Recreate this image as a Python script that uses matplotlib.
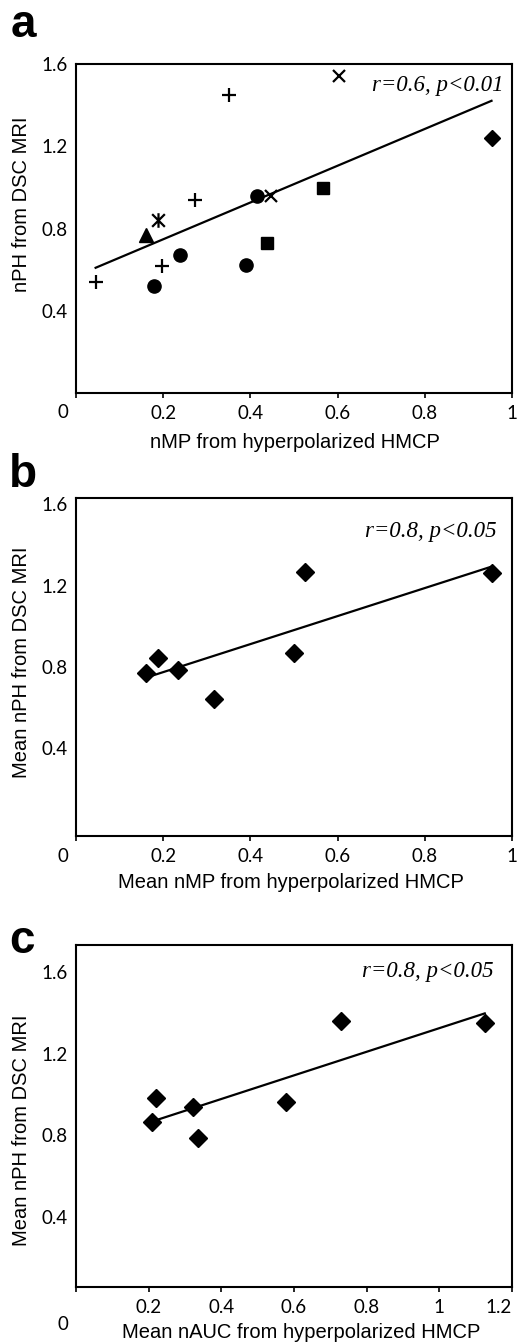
"""
Three scatter panels: DSC MRI peak height against hyperpolarized HMCP metrics,
each with its linear trend line and the correlation note in the corner.
"""
import matplotlib

matplotlib.use("Agg")
import matplotlib.pyplot as plt
from matplotlib.path import Path

W, H = 518, 1343

# ---- panel a: individual measurements, one marker per subject ----
a_plus_x = [0.045, 0.197, 0.272, 0.350]
a_plus_y = [0.541, 0.619, 0.939, 1.447]
a_cross_x = [0.447, 0.604]
a_cross_y = [0.958, 1.540]
a_star_x = [0.187]
a_star_y = [0.841]
a_tri_x = [0.160]
a_tri_y = [0.768]
a_circle_x = [0.178, 0.239, 0.391, 0.415]
a_circle_y = [0.520, 0.669, 0.621, 0.958]
a_square_x = [0.438, 0.566]
a_square_y = [0.728, 0.997]
a_diamond_x = [0.953]
a_diamond_y = [1.238]
a_trend_x = [0.045, 0.953]
a_trend_y = [0.609, 1.421]

# ---- panel b: subject means ----
b_x = [0.161, 0.187, 0.235, 0.316, 0.500, 0.525, 0.953]
b_y = [0.772, 0.842, 0.784, 0.642, 0.870, 1.269, 1.260]
b_trend_x = [0.161, 0.953]
b_trend_y = [0.748, 1.293]

# ---- panel c: subject means, nAUC ----
c_x = [0.210, 0.220, 0.321, 0.337, 0.578, 0.728, 1.125]
c_y = [0.865, 0.985, 0.937, 0.787, 0.963, 1.359, 1.350]
c_trend_x = [0.210, 1.125]
c_trend_y = [0.868, 1.397]

y_ticks = [0.4, 0.8, 1.2, 1.6]
ab_x_ticks = [0, 0.2, 0.4, 0.6, 0.8, 1.0]
ab_x_labels = ["", "0.2", "0.4", "0.6", "0.8", "1"]
c_x_ticks = [0, 0.2, 0.4, 0.6, 0.8, 1.0, 1.2]
c_x_labels = ["", "0.2", "0.4", "0.6", "0.8", "1", "1.2"]

TICK_FONT = "Lato"
LABEL_FONT = "Liberation Sans"
TICK_SIZE = 13.5
LABEL_SIZE = 14.5

# Excel-style "*" marker: a cross with a vertical bar through it
STAR = Path(
    [(-1, -1), (1, 1), (-1, 1), (1, -1), (0, -1.15), (0, 1.15)],
    [Path.MOVETO, Path.LINETO, Path.MOVETO, Path.LINETO, Path.MOVETO, Path.LINETO],
)


def px_axes(fig, left, top, right, bottom):
    return fig.add_axes([left / W, 1 - bottom / H, (right - left) / W, (bottom - top) / H])


def ftext(fig, x, y, s, **kw):
    fig.text(x / W, 1 - y / H, s, **kw)


def style_axes(ax, xlim, ylim, xticks, xlabels):
    ax.set_xlim(*xlim)
    ax.set_ylim(*ylim)
    for sp in ax.spines.values():
        sp.set_linewidth(1.5)
        sp.set_color("black")
    ax.set_xticks(xticks)
    ax.set_xticklabels(xlabels)
    ax.set_yticks(y_ticks)
    ax.set_yticklabels([f"{v:.1f}" for v in y_ticks])
    ax.tick_params(axis="x", direction="out", length=3.5, width=1.2, pad=5,
                   labelsize=TICK_SIZE)
    ax.tick_params(axis="y", length=0, pad=6, labelsize=TICK_SIZE)
    for lab in ax.get_xticklabels() + ax.get_yticklabels():
        lab.set_fontfamily(TICK_FONT)
    # Excel pulls the last x label inside the figure edge
    ax.get_xticklabels()[-1].set_horizontalalignment("right" if len(xticks) > 6 else "center")


fig = plt.figure(figsize=(W / 100, H / 100), dpi=100)

# panel a
ax = px_axes(fig, 76, 64, 512, 393)
ms_kw = dict(linestyle="none", color="black")
ax.plot(a_trend_x, a_trend_y, color="black", linewidth=1.6)
ax.plot(a_plus_x, a_plus_y, marker="+", markersize=10, markeredgewidth=1.6, **ms_kw)
ax.plot(a_cross_x, a_cross_y, marker="x", markersize=9, markeredgewidth=1.6, **ms_kw)
ax.plot(a_star_x, a_star_y, marker=STAR, markersize=10.5, markeredgewidth=1.6,
        markerfacecolor="none", **ms_kw)
ax.plot(a_tri_x, a_tri_y, marker="^", markersize=9.5, **ms_kw)
ax.plot(a_circle_x, a_circle_y, marker="o", markersize=9.5, **ms_kw)
ax.plot(a_square_x, a_square_y, marker="s", markersize=9, **ms_kw)
ax.plot(a_diamond_x, a_diamond_y, marker="D", markersize=8.5, **ms_kw)
style_axes(ax, (0, 1), (0, 1.6), ab_x_ticks, ab_x_labels)

# panel b
ax = px_axes(fig, 76, 498, 512, 836)
ax.plot(b_trend_x, b_trend_y, color="black", linewidth=1.6)
ax.plot(b_x, b_y, marker="D", markersize=9, **ms_kw)
style_axes(ax, (0, 1), (-0.03, 1.63), ab_x_ticks, ab_x_labels)

# panel c
ax = px_axes(fig, 76, 945, 512, 1287)
ax.plot(c_trend_x, c_trend_y, color="black", linewidth=1.6)
ax.plot(c_x, c_y, marker="D", markersize=9, **ms_kw)
style_axes(ax, (0.003, 1.2), (0.057, 1.732), c_x_ticks, c_x_labels)

# panel letters
for x, y, s in [(11, 37, "a"), (9, 487, "b"), (9, 953, "c")]:
    ftext(fig, x, y, s, fontsize=33, fontweight="bold", family=LABEL_FONT,
          ha="left", va="baseline")

# correlation notes
for x, y, s in [(504, 85, "r=0.6, p<0.01"), (497, 532, "r=0.8, p<0.05"),
                (494, 972, "r=0.8, p<0.05")]:
    ftext(fig, x, y, s, fontsize=16.5, style="italic", family="Liberation Serif",
          ha="right", va="center")

# axis titles
for y, s in [(204, "nPH from DSC MRI"), (662, "Mean nPH from DSC MRI"),
             (1130, "Mean nPH from DSC MRI")]:
    ftext(fig, 22, y, s, fontsize=LABEL_SIZE, family=LABEL_FONT, rotation=90,
          ha="center", va="center")
for x, y, s in [(295, 442, "nMP from hyperpolarized HMCP"),
                (291, 882, "Mean nMP from hyperpolarized HMCP"),
                (301, 1332, "Mean nAUC from hyperpolarized HMCP")]:
    ftext(fig, x, y, s, fontsize=LABEL_SIZE, family=LABEL_FONT, ha="center", va="center")

# stray origin labels
for y in (412, 856, 1325):
    ftext(fig, 63, y, "0", fontsize=TICK_SIZE, family=TICK_FONT, ha="center", va="center")

fig.savefig("out.png", dpi=100)
plt.close(fig)
